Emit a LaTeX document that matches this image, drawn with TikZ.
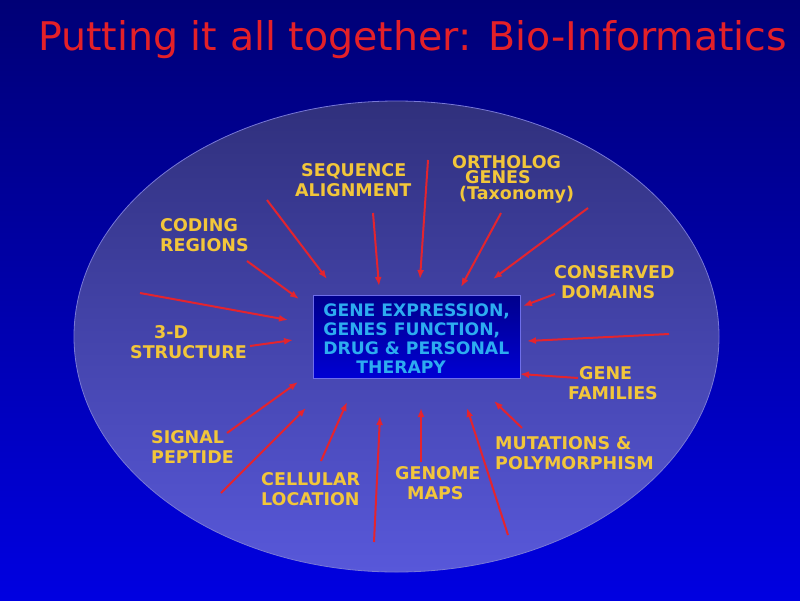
\documentclass[tikz,border=0pt]{standalone}
\usepackage{fontspec}
\setmainfont{DejaVu Sans}
\usetikzlibrary{arrows.meta}
\definecolor{slidetop}{RGB}{0,0,118}
\definecolor{slidebot}{RGB}{0,0,225}
\definecolor{ovaltop}{RGB}{48,48,124}
\definecolor{ovalbot}{RGB}{88,88,218}
\definecolor{ovaledge}{RGB}{120,120,215}
\definecolor{boxtop}{RGB}{0,0,140}
\definecolor{boxbot}{RGB}{0,0,212}
\definecolor{boxedge}{RGB}{110,110,235}
\definecolor{titlered}{RGB}{228,32,40}
\definecolor{labelgold}{RGB}{242,198,58}
\definecolor{boxcyan}{RGB}{45,172,240}
\definecolor{arrowred}{RGB}{228,36,46}
\tikzset{
  topic/.style={anchor=north west, inner sep=0pt, align=left, text=labelgold,
    font=\fontsize{17.5}{20.5}\selectfont\bfseries},
  exprbox/.style={anchor=north west, draw=boxedge, line width=0.8pt,
    top color=boxtop, bottom color=boxbot, text=boxcyan, align=left,
    inner xsep=10pt, inner ysep=5pt, font=\fontsize{17.2}{19}\selectfont\bfseries},
  feed/.style={draw=arrowred, line width=2pt, -{Latex[length=9pt,width=7pt]}},
}
\begin{document}
\begin{tikzpicture}[x=1pt,y=-1pt]
  \useasboundingbox (0,0) rectangle (800,600);
  \shade[top color=slidetop, bottom color=slidebot] (0,0) rectangle (800,600);
  \draw[ovaledge, line width=0.8pt, top color=ovaltop, bottom color=ovalbot]
    (396.5,336.5) ellipse [x radius=322.5, y radius=235.5];

  \node[anchor=base west, inner sep=0pt, text=titlered, font=\fontsize{39.5}{46}\selectfont]
    (title) at (38,50) {Putting it all together: Bio-Informatics};

  \node[exprbox] (expr) at (313,295) {\rule{0pt}{16pt}GENE EXPRESSION,\\GENES FUNCTION,\\DRUG \& PERSONAL\\\hspace*{33pt}THERAPY};

  % labels round the oval
  \node[topic] (seqalign) at (295,163) {\hspace*{6pt}SEQUENCE\\ALIGNMENT};
  \node[topic, font=\fontsize{17.5}{15.5}\selectfont\bfseries] (ortholog) at (452,155) {ORTHOLOG\\\hspace*{13pt}GENES\\\hspace*{7pt}(Taxonomy)};
  \node[topic] (coding) at (160,218) {CODING\\REGIONS};
  \node[topic] (conserved) at (554,265) {CONSERVED\\\hspace*{7pt}DOMAINS};
  \node[topic] (structure) at (130,325) {\hspace*{24pt}3-D\\STRUCTURE};
  \node[topic] (families) at (568,366) {\hspace*{11pt}GENE\\FAMILIES};
  \node[topic] (signal) at (151,430) {SIGNAL\\PEPTIDE};
  \node[topic] (cellular) at (261,472) {CELLULAR\\LOCATION};
  \node[topic] (genome) at (395,466) {GENOME\\\hspace*{12pt}MAPS};
  \node[topic] (mutations) at (495,436) {MUTATIONS \&\\POLYMORPHISM};

  % arrow ends
  \coordinate (t1) at (267,200);  \coordinate (h1) at (327,279);
  \coordinate (t2) at (373,213);  \coordinate (h2) at (379,286);
  \coordinate (t3) at (428,160);  \coordinate (h3) at (420,279);
  \coordinate (t4) at (247,261);  \coordinate (h4) at (299,299);
  \coordinate (t5) at (140,293);  \coordinate (h5) at (288,320);
  \coordinate (t6) at (501,213);  \coordinate (h6) at (461,287);
  \coordinate (t7) at (588,208);  \coordinate (h7) at (493,279);
  \coordinate (t8) at (555,294);  \coordinate (h8) at (523,306);
  \coordinate (t9) at (669,334);  \coordinate (h9) at (527,341);
  \coordinate (t10) at (578,378); \coordinate (h10) at (520,374);
  \coordinate (t11) at (250,346); \coordinate (h11) at (293,340);
  \coordinate (t12) at (227,433); \coordinate (h12) at (298,382);
  \coordinate (t13) at (221,493); \coordinate (h13) at (306,408);
  \coordinate (t14) at (321,461); \coordinate (h14) at (347,402);
  \coordinate (t15) at (374,542); \coordinate (h15) at (380,416);
  \coordinate (t16) at (421,462); \coordinate (h16) at (421,408);
  \coordinate (t17) at (508,535); \coordinate (h17) at (467,408);
  \coordinate (t18) at (522,428); \coordinate (h18) at (494,401);

  \foreach \i in {1,...,18}
    \draw[feed] (t\i) -- (h\i);
\end{tikzpicture}
\end{document}
